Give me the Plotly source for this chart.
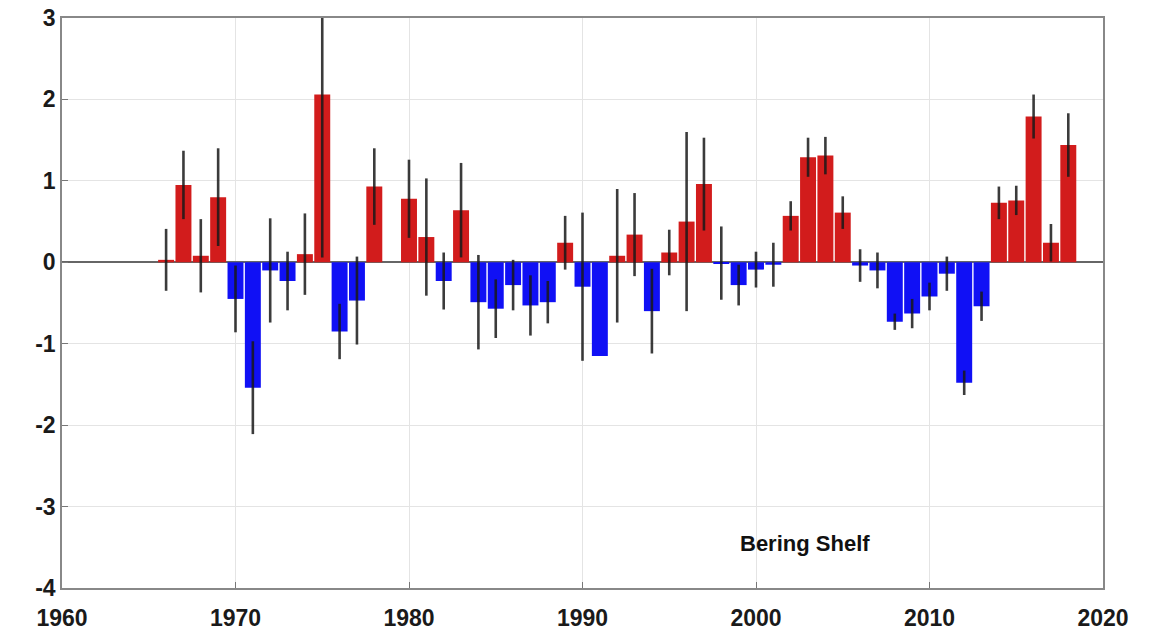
import plotly.graph_objects as go

years = list(range(1966, 2019))
anomaly = [0.03, 0.95, 0.08, 0.80, -0.45, -1.54, -0.10, -0.23, 0.10, 2.06,
           -0.85, -0.47, 0.93, None, 0.78, 0.31, -0.23, 0.64, -0.49, -0.57,
           -0.28, -0.53, -0.49, 0.24, -0.30, -1.15, 0.08, 0.34, -0.60, 0.12,
           0.50, 0.96, -0.01, -0.28, -0.09, -0.03, 0.57, 1.29, 1.31, 0.61,
           -0.04, -0.10, -0.73, -0.63, -0.42, -0.14, -1.48, -0.54, 0.73, 0.76,
           1.79, 0.24, 1.44]
error = [0.38, 0.42, 0.45, 0.60, 0.41, 0.57, 0.64, 0.36, 0.50, 2.00,
         0.34, 0.54, 0.47, None, 0.48, 0.72, 0.35, 0.58, 0.58, 0.36,
         0.31, 0.37, 0.26, 0.33, 0.91, 0.00, 0.82, 0.51, 0.52, 0.28,
         1.10, 0.57, 0.45, 0.25, 0.22, 0.27, 0.18, 0.24, 0.23, 0.20,
         0.20, 0.22, 0.10, 0.18, 0.17, 0.21, 0.15, 0.18, 0.20, 0.18,
         0.27, 0.23, 0.39]
x_ticks = [1960, 1970, 1980, 1990, 2000, 2010, 2020]
y_ticks = [-4, -3, -2, -1, 0, 1, 2, 3]
y_ticklabels = ["-4", "-3", "-2", "-1", "0", "1", "2", "3"]
label_text = "Bering Shelf"

RED = "#d21c1c"
BLUE = "#1010f5"
colors = [RED if (v is not None and v >= 0) else BLUE for v in anomaly]

fig = go.Figure()
fig.add_trace(go.Bar(
    x=years, y=anomaly,
    marker=dict(color=colors, line=dict(width=0)),
    error_y=dict(type="data", array=error, visible=True, width=0,
                 thickness=2.6, color="rgba(25,25,25,0.85)"),
    width=0.92,
    showlegend=False,
))

fig.add_annotation(x=2002.8, y=-3.45, text=label_text, showarrow=False,
                   font=dict(family="Liberation Sans, Arial, sans-serif", size=22,
                             color="#111111", weight="bold"))

axis_font = dict(family="Liberation Sans, Arial, sans-serif", size=23,
                 color="#1a1a1a", weight="bold")

fig.update_xaxes(range=[1960, 2020], tickvals=x_ticks, ticks="inside", ticklen=6,
                 tickcolor="#777", showgrid=True, gridcolor="#e4e4e4", gridwidth=1,
                 showline=True, linecolor="#888", linewidth=1.5, mirror=True,
                 zeroline=False, tickfont=axis_font, automargin=False,
                 ticklabelstandoff=9)
fig.update_yaxes(range=[-4, 3], tickvals=y_ticks, ticktext=y_ticklabels,
                 ticks="inside", ticklen=6,
                 tickcolor="#777", showgrid=True, gridcolor="#e4e4e4", gridwidth=1,
                 showline=True, linecolor="#888", linewidth=1.5, mirror=True,
                 zeroline=True, zerolinecolor="#666", zerolinewidth=1.5,
                 tickfont=axis_font, automargin=False)

fig.update_layout(width=1155, height=633, plot_bgcolor="white", paper_bgcolor="white",
                  margin=dict(l=62, r=52, t=18, b=45), bargap=0.08)

fig.write_html("out.html")
